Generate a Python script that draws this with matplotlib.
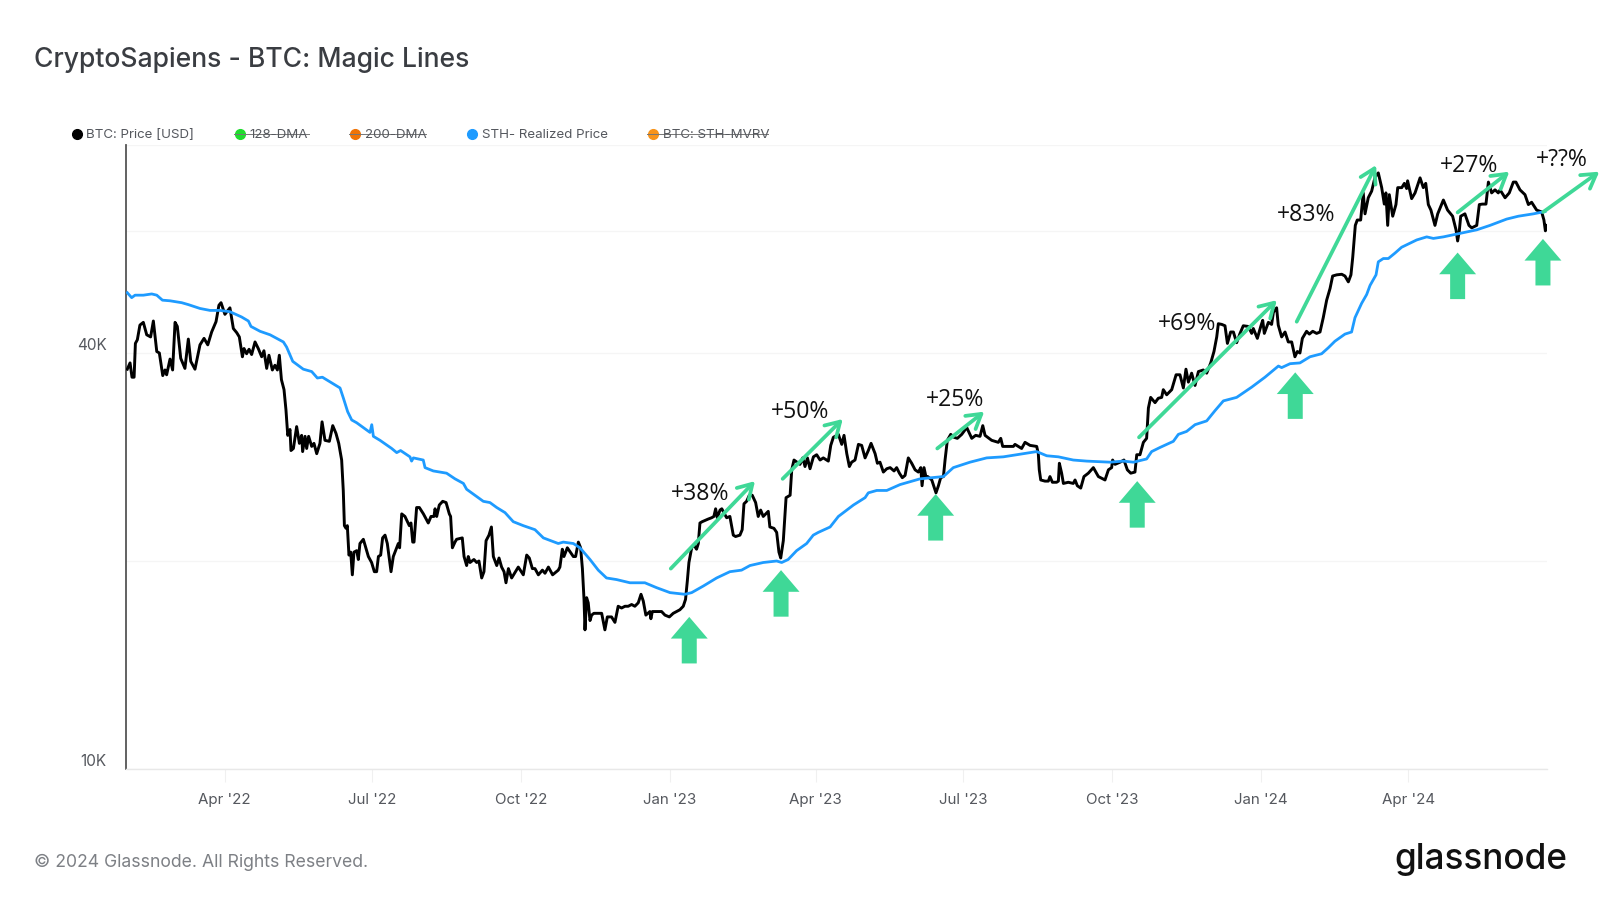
import matplotlib
matplotlib.use("Agg")
import matplotlib.pyplot as plt
import matplotlib.dates as mdates
from matplotlib.lines import Line2D
import numpy as np

# everything below, days counted from start_date, price in thousand USD
start_date = "2022-01-30"
end_day = 877.7

price_day = [0.8,2.5,3.7,5,5.8,7,8.6,10.7,12.8,15.2,16.9,19,20.6,22.7,24.1,25.1,27.2,28.8,30.3,31.7,33.8,36.4,38.5,40,42.6,45.7,48.2,50.5,52.9,55.6,57.4,58.7,61.1,64.2,66.3,68.4,70,71.9,72.9,74.5,76,77.6,79.7,81.7,83.8,85.2,86.9,88.3,90.4,92,93.5,94.7,96,97.6,98.8,99.9,101.3,101.9,103.4,105.4,107.1,108.5,109.1,110.6,111.6,112.8,114.7,116.1,117.8,119.8,121.1,122.9,125.6,127.7,129.7,131.4,133.2,
             134.2,134.9,135.9,136.7,137.7,138.8,139.8,140.8,142.5,143.5,144.5,146.6,149.7,151.7,153.4,154.8,155.9,157.3,158.5,160,161.4,163.7,165.1,167.2,168.2,169,170.3,172.3,175,176,177.1,177.9,179.5,181.2,183.7,186.7,188.4,190.2,190.9,191.9,193.5,195.6,197.7,199.7,200.5,201.6,203.2,204.2,207.7,208.8,210.4,211.4,212.5,214.9,216.6,218,219.7,221.1,222.4,224.2,225.7,226.9,229,230.4,232,233.5,234.7,236.2,238.2,242.3,245.4,247.5,249.1,251,252.6,254.7,257.2,258.8,260.9,263.5,267,268,269.5,270.5,272.6,276.3,277.7,279.4,280.8,281.9,282.9,283.5,
             284.5,285.5,286.6,287.6,289,291.7,293.8,295.8,297.3,299.9,302,304,306.1,308.2,310.2,312.3,314.3,316.4,318.1,319.5,321.1,323.6,324.2,325.1,330.8,332.9,335.6,338,342.1,344.2,345.6,346.7,347.7,349.4,350.8,352.4,353.5,354.5,355.9,359.6,361.7,363.1,364.2,365.2,366.9,368,371,373,375.1,376.5,379.2,380.6,381.7,383.3,385,386.8,388.9,390.5,392,393.6,396.7,397.7,400.2,401.9,403.3,404.4,
             406,407.7,410.2,411.2,412.6,416.3,418,419.4,420.9,422.5,424.6,426.6,428.7,430.7,433.8,435.3,436.9,440,442.1,443.5,445.2,446.8,448.2,450.3,452.4,454.4,456.5,458.5,460.2,462.7,464.1,465.7,467.8,469.9,472,474.4,476,477.7,479.5,481.2,483.2,485.3,487.4,489.4,490.9,491.7,492.9,494.2,495.2,497.7,499.1,500.3,501.8,503.2,504.9,505.9,507.3,509.4,511.5,513.5,516.2,519.3,522.4,524.8,527.5,529.2,530.6,534.7,538.8,540.3,541.5,545,548.1,549.1,551.2,553.2,555.3,558.4,562.5,563.5,
             564.1,565,567.6,569.7,570.7,572.2,574.8,575.9,576.5,577.9,579,582,585.1,586.2,587.6,589.7,591.7,594.4,597.5,600.6,604.7,606.8,608.8,609.4,610.9,614,616.4,618.5,620.6,623.2,624.3,626.3,628.4,630.4,631.5,632.9,635.6,637.6,639.7,640.7,642.8,645.9,648.6,651,653.1,654.7,656.2,658.2,660.3,662.4,665.4,667.5,670,672,673.7,674.7,676.8,678.8,680.3,682.3,684,686,688.1,690.1,693.2,695.3,696.3,698.8,700.9,702.1,703.1,705.6,707.6,708.7,710.7,
             711.7,713.8,715.9,717.9,720,722,723.5,725.1,726.6,729.2,730.9,733,735.4,737.5,739.5,741.6,743.7,745.3,747.8,750.9,752.9,755,756.6,757.7,759.3,760.5,762.6,764.2,765.3,767.3,769.4,771.5,773.5,775.6,777.2,778.2,779.3,780.3,782.4,784.4,785.5,788,789.6,791,791.6,794.1,796.2,799.3,801.3,802.8,804.4,806,808.5,810.2,813.7,816.3,819.4,821.5,822.5,823.5,824.4,827,829.5,831.2,834.3,835.9,837.8,840,841.5,843.5,845.6,847.6,848.7,851.8,854.4,856.9,858.5,861,864.1,866.2,868.2,871.3,874.4,875.8,876.7,877.4]
price_k = [37.9,38.7,36.9,36.9,41.3,41.8,43.9,44.3,42.5,42.2,44.5,40.2,40.0,37.1,37.8,37.2,39.2,37.8,44.3,43.7,39.3,38,41.9,38.9,37.9,41.1,42,41.1,42.9,44.4,46.9,47.3,45.5,46.5,43.4,42.8,42.2,39.5,40.6,39.9,40.5,39.8,41.5,40.6,39.5,40.3,38,39.7,37.8,38.4,37.8,39.7,36.6,35.4,33.1,30.4,31,28.9,29.1,31.3,29.6,30.4,28.8,30.3,29.1,30.3,29.3,29.6,28.6,29.6,31.8,29.9,29.8,31.4,30.6,29.6,28,
           25.3,22.5,22.3,22.5,20.4,20.6,19.1,20.6,20.7,20.1,21.2,21.5,20.3,19.9,19.3,19.3,20.3,20.4,21.6,21.8,21.2,19.3,20.3,20.9,21.2,20.9,23.4,23.2,22.5,22.7,21.3,21.3,23.9,23.9,23.4,22.7,23.2,23.2,23.8,23.2,24.1,24.4,24.3,23.4,23.2,20.9,21.3,21.5,21.6,20.3,19.7,20.3,19.9,20.1,19.9,20,18.9,19.3,21.4,21.8,22.4,20.3,19.7,20.2,19.6,19.3,18.6,19.5,18.9,19.6,19.1,20.4,20.2,19.5,19.5,19.1,19.4,19.2,19.6,19.1,19.4,19.6,20.8,20.3,20.9,20.3,20.3,21.3,20.9,19.5,17.6,15.9,
           17.7,17.4,16.4,16.7,16.8,16.8,16.8,15.9,16.6,16.6,16.3,17.2,17.1,17.2,17.2,17.3,17.2,17.4,17.9,17.5,16.7,16.9,16.5,16.9,16.9,16.7,16.6,16.8,17.0,17.2,17.6,18.7,19.9,20.9,21.1,20.8,21.2,22.7,22.8,23,23.1,23.2,23.8,23.1,23.7,23.8,23.1,23.2,21.8,21.7,21.8,22.2,24.2,24.4,24.9,24.9,24.3,23.2,23.7,23.2,23.6,22.4,22.3,22,20.6,20.2,
           21.4,24.7,24.9,27.1,28,27.6,28.2,27.4,28.2,27.2,28.3,28.5,28,28.2,27.9,29.4,30.2,30.5,29.5,30.4,28.6,27.4,27.8,28,29.5,29.4,28.2,28.9,29.6,28.6,27.7,27.8,26.9,27.2,27.3,27,27.3,26.8,26.4,26.6,28.2,27.7,27.1,26.9,27.3,25.7,27.3,26.4,26.5,26.2,25.6,25.1,25.7,26.4,26.5,28,29.9,30.5,30.2,30.1,30.5,31.2,30.1,30.4,30.3,31.4,30.4,29.9,29.7,30.1,29.3,29.3,29.3,29.5,29.3,29.1,29.7,29.4,29.3,28.6,
           27.1,26.2,26.1,26.1,26.5,26,26,26.1,27.7,26.8,25.9,26,25.9,26.2,25.7,25.5,26.5,26.8,27.3,26.5,26.2,27.1,27.3,28,27.6,27.8,28,27.1,26.8,26.9,28.5,28.5,29.7,30.1,33.3,34.5,33.9,34.4,34.5,35.4,34.8,35.4,37.2,37.2,35.6,37.9,36.3,37.4,35.9,37.6,37.8,37.4,38.7,40.2,42.2,44.1,44,43.8,41.3,42.9,42.9,41.4,42.7,43.8,43.7,42.7,43.4,42,43.7,44.6,42.7,44.3,44,45.8,46.5,
           43.9,42.2,42.9,41.5,41.5,39.5,40.2,40,42,43,42.6,43,42.7,42.9,45,47.7,49.6,51.7,51.9,52,51.7,50.7,51.9,55,61.2,62.3,62.3,68.2,63.6,67.1,68.6,71.9,72.9,69.4,65.7,68.2,61.2,67.8,63.1,65.6,69.4,69.4,70.4,69.2,71,66.9,68.2,71.7,69.4,70.4,65.6,64.4,61.2,63.6,66.6,64.4,63.1,60.3,58.1,60,63.1,63.6,61.2,60.7,61.2,65.6,65.7,65.7,70.7,68.2,68.9,68.2,68.9,67.1,68.2,70.7,70.7,68.9,67.8,65.6,66.1,64.4,64,62.3,60.1,61.2]

sth_day = [0.8,3.5,5.6,10.7,15.9,19,22.5,27.2,34.4,38.5,45.7,51.9,58,64.2,71.4,75.6,77.2,82.8,89,97.2,99.2,103,109.5,114.7,118.2,121.3,132.2,134.3,136.9,139.4,142.5,150.7,151.8,152.8,156.9,164.1,167.2,169.6,175.4,176.4,177.5,183.6,184.7,189.8,198,203.2,208.4,210.4,216.6,220.7,224.8,229,234.1,239.2,245.4,252.6,257.8,267,270.1,276.3,280.4,283.5,286.6,291.7,296.8,303,311.3,320.5,327.7,336,345.2,349.4,356.6,364.8,373,380.2,385.4,393.6,401.9,405,409,414.2,420.4,424.5,427.6,434.9,440,449.3,456.5,458.5,463.7,469.9,478.1,490.5,504.9,511,521.3,531.6,541.9,554.3,562.5,568.7,575.9,585.1,593.4,607.8,616,622.2,630.4,633.5,638.7,646.9,650,655.1,660.3,667.5,672.6,677.8,686,695.3,703.5,711.8,713.8,719,725.1,731.3,738.5,742.6,746.7,752.9,757,759.1,763.2,766.3,768.4,772.1,773.5,776.6,779.7,783.8,787.9,797.2,803.4,807.5,813.7,824,834.3,842.5,852.8,860,869.3,876.5]
sth_k = [48.9,48.1,48.5,48.5,48.7,48.5,47.7,47.6,47.3,47,46.4,46.1,46.1,45.9,45.1,44.5,43.7,43,42.5,41.5,40.8,38.9,37.9,37.6,36.8,36.9,35.6,34.4,32.9,32,31.7,30.7,31.5,30.3,29.9,29.1,28.7,28.9,28.3,27.9,28.2,28,27.3,27,26.8,26.3,25.9,25.4,24.8,24.4,24.3,23.9,23.5,22.8,22.5,22.2,21.6,21.2,21.3,21.2,20.9,20.5,20.1,19.4,18.9,18.8,18.6,18.6,18.3,18,17.9,18,18.4,18.9,19.3,19.4,19.7,19.9,20,19.9,20.1,20.7,21.2,21.8,22,22.4,23.2,24.1,24.7,25.1,25.3,25.3,25.8,26.3,26.5,27.3,27.8,28.2,28.3,28.6,28.8,28.4,28.3,28,27.9,27.8,27.9,27.8,28.1,28.8,29.2,29.8,30.5,30.8,31.5,31.9,33,34.1,34.5,35.7,36.9,38.3,38.1,38.6,38.7,39.5,39.9,40.7,41.6,42.6,42.9,45,47.2,48.6,50.1,51.9,54.2,54.8,54.8,55.8,56.9,58.3,58.9,58.6,58.9,59.6,60.3,61.2,62.5,63.1,63.6,64.1]

tick_dates = ["2022-04-01","2022-07-01","2022-10-01","2023-01-01","2023-04-01","2023-07-01","2023-10-01","2024-01-01","2024-04-01"]
tick_labels = ["Apr '22","Jul '22","Oct '22","Jan '23","Apr '23","Jul '23","Oct '23","Jan '24","Apr '24"]
grid_k = [10,20,40,60,80]
grid_labels = ["10K","","40K","",""]

legend_names = ["BTC: Price [USD]","128-DMA","200-DMA","STH- Realized Price","BTC: STH-MVRV"]
legend_colors = ["#000000","#1fdc2e","#f07305","#1e9bff","#f7931a"]
legend_off = [False,True,True,False,True]

gain_labels = ["+38%","+50%","+25%","+69%","+83%","+27%","+??%"]
gain_label_day = [354.5,416.3,512,655.2,728.8,829.5,886.8]
gain_label_k = [25.0,32.9,34.2,44.0,63.3,74.5,76.0]
gain_from_day = [336.5,405.6,501.1,625.7,723.1,822.5,875.4]
gain_from_k = [19.5,26.3,29.1,30.2,44.4,63.9,64.0]
gain_to_day = [388.5,442.7,530.1,710.8,772.1,854.4,910]
gain_to_k = [26.1,32.1,32.9,47.7,74.8,73.2,73.2]
touch_day = [347.9,404.6,500.1,624.6,722.2,822.5,875.2]
touch_k = [16.6,19.4,25.0,26.1,37.5,55.9,58.5]

W, H = 1600, 900
GREEN = "#3fd897"
plt.rcParams["font.family"] = ["Inter", "DejaVu Sans"]

fig = plt.figure(figsize=(16, 9), dpi=100)
ax = fig.add_axes([126/W, 1-769/H, (1547-126)/W, (769-145)/H])

t0 = mdates.date2num(np.datetime64(start_date))
ax.set_yscale("log")
ax.plot(t0+np.array(price_day), np.array(price_k)*1000, color="black", lw=2.1, zorder=3, solid_joinstyle="round")
ax.plot(t0+np.array(sth_day), np.array(sth_k)*1000, color="#1e9bff", lw=2.0, zorder=4, solid_joinstyle="round")
ax.set_xlim(t0, t0+end_day)
ax.set_ylim(10000, 80000)

ax.set_xticks(mdates.date2num(np.array(tick_dates, dtype="datetime64[D]")))
ax.set_xticklabels(tick_labels, fontsize=10.9, color="#55585e")
ax.tick_params(axis="x", length=9, width=0.8, color="#f0f0f0", pad=8)
ax.set_yticks(np.array(grid_k)*1000)
ax.set_yticklabels(grid_labels, fontsize=11, color="#55585e", va="bottom")
ax.minorticks_off()
ax.tick_params(axis="y", length=0, pad=14)
ax.grid(axis="y", color="#f5f5f5", lw=1)
ax.set_axisbelow(True)
for s in ["top", "right"]:
    ax.spines[s].set_visible(False)
ax.spines["left"].set_color("#555555")
ax.spines["left"].set_linewidth(1.3)
ax.spines["bottom"].set_color("#e8e8e8")
ax.spines["bottom"].set_linewidth(1)

# green overlays drawn on the chart by hand in the original
for i in range(len(gain_labels)):
    ax.annotate("", xy=(t0+gain_to_day[i], gain_to_k[i]*1000), xytext=(t0+gain_from_day[i], gain_from_k[i]*1000),
                arrowprops=dict(arrowstyle="->,head_length=0.5,head_width=0.3", mutation_scale=20, color=GREEN, lw=2.7,
                                shrinkA=0, shrinkB=0), annotation_clip=False, zorder=5)
    ax.text(t0+gain_label_day[i], gain_label_k[i]*1000, gain_labels[i], ha="center", va="center", fontsize=16.6,
            family=["Open Sans", "DejaVu Sans"], color="#111111", zorder=6, clip_on=False)
    ax.annotate("", xy=(t0+touch_day[i], touch_k[i]*1000), xytext=(0, -33.5), textcoords="offset points",
                arrowprops=dict(width=10.8, headwidth=26.6, headlength=15.6, facecolor=GREEN, edgecolor="none", lw=0, shrink=0),
                annotation_clip=False, zorder=5)

fig.text(34/W, 1-60/H, "CryptoSapiens - BTC: Magic Lines", fontsize=19.1, fontweight="medium", color="#3a3d42", va="center")
fig.text(34/W, 1-862.5/H, "© 2024 Glassnode. All Rights Reserved.", fontsize=12.7, color="#7d8085", va="center")
fig.text(1567/W, 1-860/H, "glassnode", fontsize=25.3, fontweight="medium", color="#111111", va="center", ha="right")

dot_x = [76.5, 239.8, 354.6, 472, 653]
text_end = [193, 308.7, 425.5, 607, 768]
for i in range(len(legend_names)):
    fig.add_artist(Line2D([dot_x[i]/W], [1-133.5/H], marker="o", ms=7, color=legend_colors[i], lw=0))
    fig.text((dot_x[i]+10)/W, 1-134.5/H, legend_names[i], fontsize=9.6, color="#55585e", va="center")
    if legend_off[i]:
        fig.add_artist(Line2D([(dot_x[i]-6)/W, text_end[i]/W], [1-134/H]*2, color="#777777", lw=0.7))

fig.savefig("out.png", dpi=100)
